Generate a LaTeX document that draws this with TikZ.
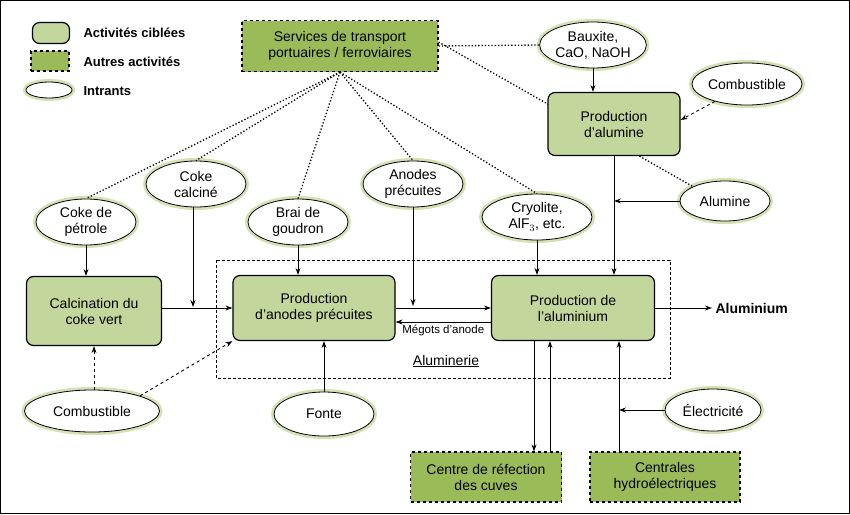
\documentclass[tikz,border=0pt]{standalone}
\usepackage{fontspec}
\setmainfont{Liberation Sans}
\usetikzlibrary{shapes.geometric,arrows.meta}
\definecolor{lgreen}{HTML}{C3D69B}
\definecolor{dgreen}{HTML}{9BBB59}
\definecolor{glow}{HTML}{C9DAA0}
\begin{document}
\begin{tikzpicture}[x=1pt,y=-1pt,font=\fontsize{14}{16}\selectfont,
 act/.style={draw,line width=1.2pt,rounded corners=7pt,fill=lgreen,align=center,inner sep=0},
 oth/.style={draw,line width=1.2pt,dashed,fill=dgreen,align=center,inner sep=0},
 inp/.style={ellipse,draw,fill=white,line width=0.8pt,align=center,inner sep=0,
   preaction={draw=glow,line width=6pt,opacity=0.8}},
 arr/.style={-{Stealth[length=7pt,width=5pt]},line width=0.9pt},
 dot/.style={dotted,line width=1.3pt},
 dsh/.style={arr,dashed}]
\useasboundingbox (0,0) rectangle (850,514);
\draw[line width=1pt] (0.5,0.5) rectangle (849.5,513.5);
% legend
\node[act,minimum width=37,minimum height=21] (l1) at (51,33) {};
\node[anchor=west,font=\fontsize{13}{15}\selectfont\bfseries] (t1) at (80,33) {Activités ciblées};
\node[oth,minimum width=38,minimum height=20] (l2) at (50,61) {};
\node[anchor=west,font=\fontsize{13}{15}\selectfont\bfseries] (t2) at (80,62) {Autres activités};
\node[inp,minimum width=46,minimum height=16] (l3) at (49,90) {};
\node[anchor=west,font=\fontsize{13}{15}\selectfont\bfseries] (t3) at (80,91) {Intrants};
% Aluminerie frame
\draw[densely dashed,line width=0.6pt,fill=white] (216,260) rectangle (670,378);
\node (alu) at (446,361) {\underline{Aluminerie}};
% nodes
\node[oth,minimum width=196,minimum height=51] (serv) at (340,46) {Services de transport\\portuaires / ferroviaires};
\node[inp,minimum width=100,minimum height=46] (baux) at (593,45) {Bauxite,\\CaO, NaOH};
\node[inp,minimum width=104,minimum height=42] (comb1) at (747,84) {Combustible};
\node[inp,minimum width=90,minimum height=40] (alumine) at (725,201) {Alumine};
\node[inp,minimum width=100,minimum height=46] (cokep) at (86,222) {Coke de\\pétrole};
\node[inp,minimum width=100,minimum height=46] (cokec) at (196,184) {Coke\\calciné};
\node[inp,minimum width=100,minimum height=46] (brai) at (298,222) {Brai de\\goudron};
\node[inp,minimum width=100,minimum height=46] (anod) at (413,184) {Anodes\\précuites};
\node[inp,minimum width=110,minimum height=46] (cryo) at (537,217) {Cryolite,\\AlF$_3$, etc.};
\draw[dot] (serv.south) -- (cokep.north);
\draw[dot] (serv.south) -- (cokec.north);
\draw[dot] (serv.south) -- (brai.north);
\draw[dot] (serv.south) -- (anod.north);
\draw[dot] (serv.south) -- (cryo.north);
\draw[dot] (serv.east) -- (baux.west);
\draw[dot] ([yshift=4]serv.east) -- (alumine.north west);
\node[act,minimum width=132,minimum height=63] (palu) at (614,124) {Production\\d’alumine};
\node[act,minimum width=135,minimum height=69] (calc) at (94,311) {Calcination du\\coke vert};
\node[act,minimum width=162,minimum height=65] (pan) at (314,308) {Production\\d’anodes précuites};
\node[act,minimum width=163,minimum height=65] (pal) at (573,308) {Production de\\l’aluminium};
\node[anchor=west,font=\fontsize{14}{16}\selectfont\bfseries] (alum) at (712,308) {Aluminium};
\node[inp,minimum width=135,minimum height=42] (comb2) at (92,411) {Combustible};
\node[inp,minimum width=100,minimum height=44] (fonte) at (324,414) {Fonte};
\node[inp,minimum width=96,minimum height=42] (elec) at (713,410) {Électricité};
\node[oth,minimum width=151,minimum height=50] (ref) at (486,477) {Centre de réfection\\des cuves};
\node[oth,minimum width=150,minimum height=50] (cent) at (665,477) {Centrales\\hydroélectriques};
% connectors
\draw[arr] (baux.south) -- (palu.north -| baux.south);
\draw[dsh] (comb1) -- (palu.east |- 0,120);
\coordinate (ja) at (614,201);
\draw[arr] (alumine.west) -- (ja);
\draw[arr] (palu.south) -- (pal.north -| palu.south);
\draw[arr] (cryo.south) -- (pal.north -| cryo.south);
\draw[arr] (cokep.south) -- (calc.north -| cokep.south);
\coordinate (jc) at (193,307);
\draw[arr] (cokec.south -| jc) -- (jc);
\draw[arr] (calc.east |- pan.west) -- (pan.west);
\draw[arr] (brai.south) -- (pan.north -| brai.south);
\coordinate (jn) at (413,306);
\draw[arr] (anod.south -| jn) -- (jn);
\draw[arr] (pan.east) -- (pal.west);
\draw[arr] ([yshift=-14]pal.west) -- node[below=-1pt,font=\fontsize{11.5}{13}\selectfont]{Mégots d’anode} ([yshift=-14]pan.east);
\draw[arr] (pal.east) -- (alum.west);
\draw[dsh] (comb2.north -| calc.south) -- (calc.south);
\draw[dsh] (comb2.north east) -- (pan.south west);
\draw[arr] (fonte.north -| pan.south) ++(10,0) -- ([xshift=10]pan.south);
\draw[arr] (pal.south -| 534,0) -- (ref.north -| 534,0);
\draw[arr] (ref.north -| 550,0) -- (pal.south -| 550,0);
\draw[arr] (cent.north -| 619,0) -- (pal.south -| 619,0);
\coordinate (je) at (619,410);
\draw[arr] (elec.west) -- (je);
\end{tikzpicture}
\end{document}
